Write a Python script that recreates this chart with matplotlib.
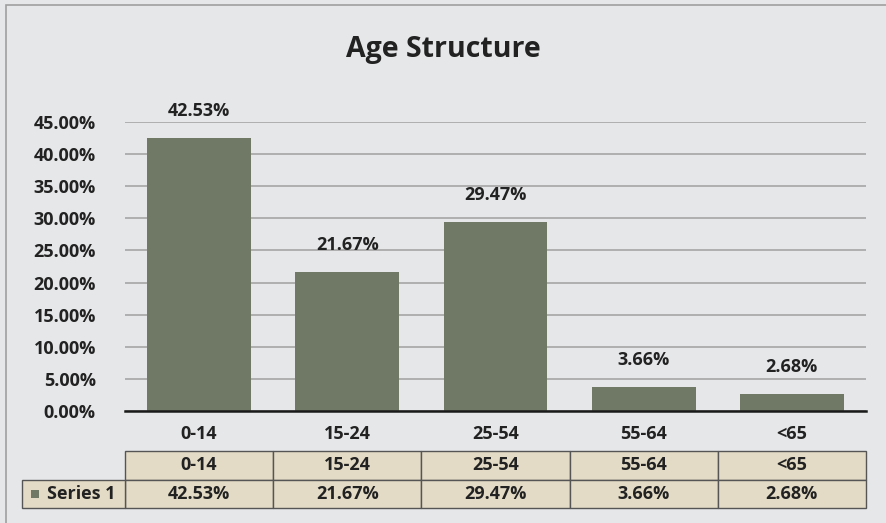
import matplotlib.pyplot as plt
from matplotlib.patches import Rectangle
import matplotlib.transforms as mtransforms

plt.rcParams['font.family'] = ['Open Sans', 'DejaVu Sans']

# data
categories = ['0-14', '15-24', '25-54', '55-64', '<65']
values = [42.53, 21.67, 29.47, 3.66, 2.68]
series_name = 'Series 1'
y_ticks = [0, 5, 10, 15, 20, 25, 30, 35, 40, 45]

bg = '#E6E7E9'
bar_color = '#6F7966'
cell_color = '#E3DBC6'
text_color = '#222222'
fs = 13

W, H = 886, 523
fig = plt.figure(figsize=(W / 100, H / 100), dpi=100, facecolor=bg)

# outer frame (left / top edges visible)
fig.add_artist(Rectangle((6 / W, -0.01), 1.0, 1 - 5 / H + 0.01, transform=fig.transFigure,
                         fill=False, edgecolor='#A0A0A0', lw=1.2))

ax = fig.add_axes([125 / W, 1 - 411 / H, (866 - 125) / W, (411 - 122) / H])
ax.set_facecolor(bg)

x = list(range(len(categories)))
bars = ax.bar(x, values, width=0.7, color=bar_color, zorder=3)
ax.set_xlim(-0.5, len(categories) - 0.5)
ax.set_ylim(0, 45)
ax.set_yticks(y_ticks)
ax.set_yticklabels([f'{v:.2f}%' for v in y_ticks])
ax.yaxis.grid(True, color='#A6A6A6', lw=1.2, zorder=0)
ax.set_xticks(x)
ax.set_xticklabels(categories)
ax.tick_params(axis='both', length=0, labelsize=fs, colors=text_color)
ax.tick_params(axis='y', pad=21)
ax.tick_params(axis='x', pad=10)
for lbl in ax.get_xticklabels() + ax.get_yticklabels():
    lbl.set_fontweight('bold')
for s in ['top', 'right', 'left']:
    ax.spines[s].set_visible(False)
ax.spines['bottom'].set_color('#1a1a1a')
ax.spines['bottom'].set_linewidth(1.8)
ax.spines['bottom'].set_zorder(4)

for b, v in zip(bars, values):
    ax.annotate(f'{v:.2f}%', (b.get_x() + b.get_width() / 2, v), xytext=(0, 13),
                textcoords='offset points', ha='center', va='bottom',
                fontsize=fs, fontweight='bold', color=text_color)

fig.text(0.5, 1 - 49 / H, 'Age Structure', ha='center', va='center',
         fontsize=20.5, fontweight='bold', color=text_color)

# data table below the axis
tr = mtransforms.blended_transform_factory(ax.transData, fig.transFigure)
px = len(categories) / (866 - 125)  # data units per pixel along x
y_top = 1 - 451 / H
y_mid = 1 - 480 / H
y_bot = 1 - 508 / H
left_x = -0.5 - 103 * px
for i, (c, v) in enumerate(zip(categories, values)):
    for (y0, y1, t) in [(y_mid, y_top, c), (y_bot, y_mid, f'{v:.2f}%')]:
        ax.add_patch(Rectangle((i - 0.5, y0), 1, y1 - y0, transform=tr, clip_on=False,
                               facecolor=cell_color, edgecolor='#555555', lw=1.0))
        ax.text(i, (y0 + y1) / 2, t, transform=tr, ha='center', va='center',
                fontsize=fs, fontweight='bold', color=text_color, clip_on=False)
ax.add_patch(Rectangle((left_x, y_bot), -0.5 - left_x, y_mid - y_bot, transform=tr,
                       clip_on=False, facecolor=cell_color, edgecolor='#555555', lw=1.0))
ax.add_patch(Rectangle((left_x + 9 * px, (y_bot + y_mid) / 2 - 4 / H), 8 * px, 8 / H,
                       transform=tr, clip_on=False, facecolor=bar_color, lw=0))
ax.text(left_x + 25 * px, (y_bot + y_mid) / 2, series_name, transform=tr, ha='left',
        va='center', fontsize=fs, fontweight='bold', color=text_color, clip_on=False)

fig.savefig('out.png', dpi=100, facecolor=bg)
